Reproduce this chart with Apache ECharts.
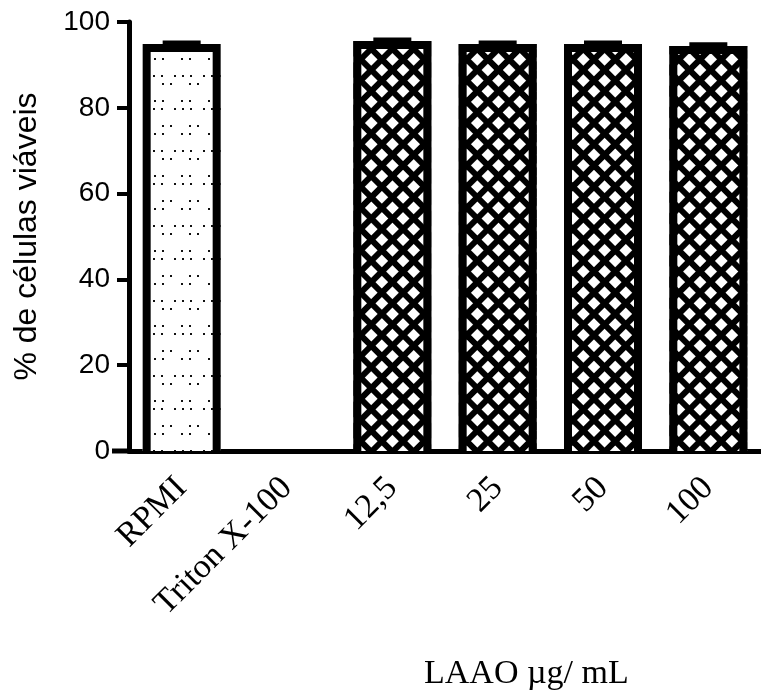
<!DOCTYPE html>
<html>
<head>
<meta charset="utf-8">
<script src="https://cdn.jsdelivr.net/npm/echarts@6/dist/echarts.min.js"></script>
<style>
html,body{margin:0;padding:0;background:#fff;}
#chart{width:761px;height:695px;}
</style>
</head>
<body>
<div id="chart"></div>
<script>
var categories = ['RPMI', 'Triton X-100', '12,5', '25', '50', '100'];
var viability = [94.9, 0, 95.6, 94.9, 94.9, 94.4];
var errors = [0.35, 0, 0.3, 0.3, 0.35, 0.4];
var yTicks = [0, 20, 40, 60, 80, 100];

var BAR_W = 78, BORDER = 8;

var dotDecal = {
  symbol: 'rect', symbolSize: 1, color: '#111',
  dashArrayX: [[2, 6, 2, 17], [2, 17, 2, 6], [2, 6, 2, 6, 2, 11]],
  dashArrayY: [2, 6, 2, 15]
};
var hatchDecal = {
  symbol: 'rect', symbolSize: 1, color: '#fff',
  dashArrayX: [9, 6], dashArrayY: [9, 6], rotation: Math.PI / 4
};

var chart = echarts.init(document.getElementById('chart'), null, {renderer: 'canvas'});

var fillData = viability.map(function (v, i) {
  return {
    value: v,
    itemStyle: {
      color: i === 0 ? '#fff' : '#000',
      decal: i === 0 ? dotDecal : hatchDecal
    }
  };
});
var outlineData = viability.map(function (v, i) { return [i, v]; });
var errData = viability.map(function (v, i) { return [i, v, v + errors[i]]; });

chart.setOption({
  animation: false,
  backgroundColor: '#fff',
  grid: {left: 129, right: -8, top: 22, bottom: 244, containLabel: false},
  title: {
    text: 'LAAO \u00b5g/ mL',
    left: 419, top: 652,
    textStyle: {fontFamily: 'Liberation Serif', fontSize: 34, fontWeight: 'normal', color: '#000'}
  },
  xAxis: {
    type: 'category',
    data: categories,
    axisLine: {lineStyle: {color: '#000', width: 5}},
    axisTick: {alignWithLabel: true, length: 14, lineStyle: {color: '#000', width: 4}},
    axisLabel: {rotate: 45, margin: 32, fontFamily: 'Liberation Serif', fontSize: 34, color: '#000', interval: 0},
    splitLine: {show: false}
  },
  yAxis: {
    type: 'value',
    min: yTicks[0], max: yTicks[yTicks.length - 1], interval: 20,
    name: '% de c\u00e9lulas vi\u00e1veis',
    nameLocation: 'middle', nameRotate: 90, nameGap: 86,
    nameTextStyle: {fontFamily: 'Liberation Sans', fontSize: 32, color: '#000'},
    axisLine: {show: true, lineStyle: {color: '#000', width: 5}},
    axisTick: {show: true, length: 12, lineStyle: {color: '#000', width: 4}},
    axisLabel: {fontFamily: 'Liberation Sans', fontSize: 28, color: '#000', margin: 19},
    splitLine: {show: false}
  },
  series: [
    {
      type: 'bar', data: fillData, barWidth: BAR_W, z: 2,
      itemStyle: {borderWidth: 0}
    },
    {
      type: 'custom', z: 3,
      data: outlineData,
      renderItem: function (params, api) {
        var v = api.value(1);
        if (v <= 0) return null;
        var top = api.coord([api.value(0), v]);
        var base = api.coord([api.value(0), 0]);
        var h = BAR_W / 2 - BORDER / 2;
        var t = top[1] + BORDER / 2;
        return {
          type: 'polyline',
          shape: {points: [[top[0] - h, base[1]], [top[0] - h, t], [top[0] + h, t], [top[0] + h, base[1]]]},
          style: {stroke: '#000', lineWidth: BORDER, fill: null, lineJoin: 'miter'}
        };
      }
    },
    {
      type: 'custom', z: 4,
      data: errData,
      renderItem: function (params, api) {
        var lo = api.value(1), hi = api.value(2);
        if (hi - lo <= 0) return null;
        var pLo = api.coord([api.value(0), lo]);
        var pHi = api.coord([api.value(0), hi]);
        var hw = 19;
        return {
          type: 'group',
          children: [
            {type: 'line', shape: {x1: pLo[0], y1: pLo[1], x2: pHi[0], y2: pHi[1]}, style: {stroke: '#000', lineWidth: 4}},
            {type: 'line', shape: {x1: pHi[0] - hw, y1: pHi[1], x2: pHi[0] + hw, y2: pHi[1]}, style: {stroke: '#000', lineWidth: 4}}
          ]
        };
      }
    }
  ]
});

// x axis line continues slightly left of the y axis, as in the original
var y0 = chart.convertToPixel({yAxisIndex: 0}, 0);
chart.setOption({
  graphic: [{
    type: 'line', z: 10,
    shape: {x1: 112, y1: y0, x2: 132, y2: y0},
    style: {stroke: '#000', lineWidth: 5}
  }]
});
</script>
</body>
</html>
